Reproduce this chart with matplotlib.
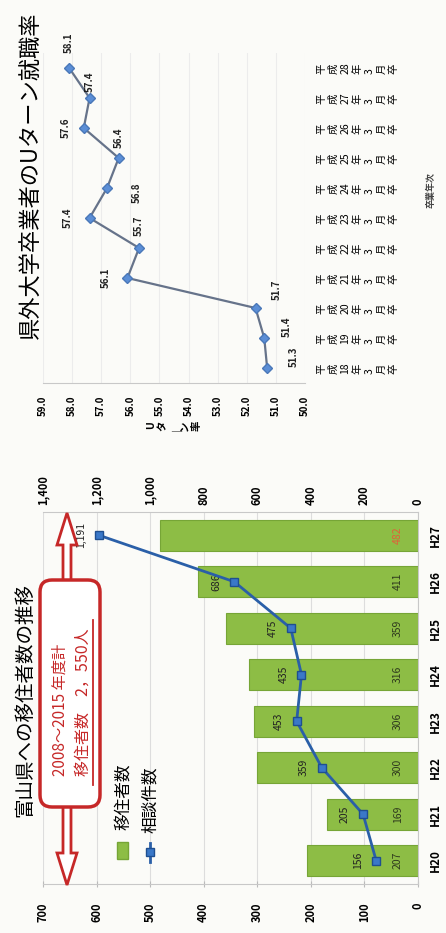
import numpy as np
import matplotlib.pyplot as plt
from matplotlib.patches import FancyArrow, FancyBboxPatch, Rectangle

plt.rcParams['font.family'] = ['Noto Sans CJK JP', 'DejaVu Sans']

# 富山県への移住者数の推移
years = ['H20', 'H21', 'H22', 'H23', 'H24', 'H25', 'H26', 'H27']
migrants = [207, 169, 300, 306, 316, 359, 411, 482]
consults = [156, 205, 359, 453, 435, 475, 686, 1191]

# 県外大学卒業者のUターン就職率
grad_years = ['18', '19', '20', '21', '22', '23', '24', '25', '26', '27', '28']
uturn_rate = [51.3, 51.4, 51.7, 56.1, 55.7, 57.4, 56.8, 56.4, 57.6, 57.4, 58.1]

# ラベルのずらし量（画像ピクセル）
rate_label_offsets = [(27, -11), (23, -11), (21, -18), (-22, 0), (0, -22), (-22, 0),
                      (30, 5), (0, -20), (-18, 0), (0, -16), (0, -25)]

W, H = 446, 933
PX = 72 / 100  # px -> pt


def rect(l, t, r, b):
    return [l / W, 1 - b / H, (r - l) / W, (b - t) / H]


fig = plt.figure(figsize=(W / 100, H / 100), dpi=100, facecolor='#fbfbf8')

# ---- 移住者数（横向きの棒） ----
ax = fig.add_axes(rect(43, 512, 418, 884))
ax.patch.set_alpha(0)
y = np.arange(len(years))
ax.barh(y, migrants, height=0.66, color='#8dbd45', edgecolor='#76a536', lw=0.8, zorder=2)
ax.set_xlim(700, 0)
ax.set_ylim(-0.5, len(years) - 0.5)
ax.set_xticks(np.arange(0, 701, 100))
ax.set_xticklabels([str(v) for v in range(0, 701, 100)], rotation=90, fontsize=8, fontweight='bold')
ax.tick_params(axis='x', direction='inout', length=5, color='#bbbbbb', pad=11)
ax.yaxis.tick_right()
ax.set_yticks(y)
ax.set_yticklabels(years, rotation=90, va='center', fontsize=8.5, fontweight='bold')
ax.tick_params(axis='y', length=0, pad=8)
ax.grid(axis='x', color='#dddddd', lw=0.8, zorder=0)
ax.set_axisbelow(True)
ax.spines['left'].set_visible(False)
for s in ['top', 'bottom', 'right']:
    ax.spines[s].set_color('#c8c8c8')

for i, v in enumerate(migrants):
    col = '#e0603a' if i == len(migrants) - 1 else '#2f3a1e'
    ax.text(38, i, str(v), rotation=90, ha='center', va='center', fontsize=7.5,
            color=col, zorder=4)

# 相談件数（右軸）
ax2 = ax.twiny()
ax2.set_xlim(1400, 0)
ax2.set_xticks(np.arange(0, 1401, 200))
ax2.set_xticklabels([f'{v:,}' for v in range(0, 1401, 200)], rotation=90, fontsize=8,
                    fontweight='bold')
ax2.tick_params(axis='x', length=0, pad=5)
for s in ax2.spines.values():
    s.set_visible(False)
ax2.plot(consults, y, color='#2a5fa8', lw=2, marker='s', ms=6, mfc='#3a78c8',
         mec='#1f4f90', zorder=5)
for i, v in enumerate(consults):
    ax2.annotate(f'{v:,}', (v, i), xytext=(-13, 0), textcoords='offset points',
                 rotation=90, ha='center', va='center', fontsize=7.5, color='#222222')

# ---- Uターン就職率 ----
ax3 = fig.add_axes(rect(43, 53, 305, 383))
ax3.patch.set_alpha(0)
yy = np.arange(len(grad_years))
ax3.set_xlim(59, 50)
ax3.set_ylim(-0.5, len(grad_years) - 0.5)
ax3.set_xticks(np.arange(50, 59.1, 1))
ax3.set_xticklabels([f'{v:.1f}' for v in np.arange(50, 59.1, 1)], rotation=90, fontsize=7,
                    fontweight='bold')
ax3.tick_params(axis='x', length=0, pad=9)
ax3.yaxis.tick_right()
ax3.set_yticks(yy)
ax3.set_yticklabels(['平\n成\n' + g + '\n年\n3\n月\n卒' for g in grad_years], rotation=90,
                    va='center', fontsize=7.5, linespacing=1.25)
ax3.tick_params(axis='y', length=0, pad=8)
ax3.set_xlabel('U\nタ\n｜\nン\n率', rotation=90, fontsize=7.5, fontweight='bold',
               linespacing=1.15, labelpad=3)
ax3.grid(axis='x', color='#ececec', lw=0.8)
for s in ['left', 'top', 'right']:
    ax3.spines[s].set_visible(False)
ax3.spines['bottom'].set_color('#c8c8c8')
ax3.plot(uturn_rate, yy, color='#66738a', lw=1.6, marker='D', ms=5, mfc='#5b8ed6',
         mec='#4a78b8', zorder=3)
for i, v in enumerate(uturn_rate):
    dx, dy = rate_label_offsets[i]
    ax3.annotate(f'{v:.1f}', (v, i), xytext=(dx * PX, -dy * PX), textcoords='offset points',
                 rotation=90, ha='center', va='center', fontsize=7, fontweight='bold',
                 color='#222222')

# ---- 見出し・凡例・吹き出し ----
ov = fig.add_axes([0, 0, 1, 1], zorder=10)
ov.set_xlim(0, W)
ov.set_ylim(H, 0)
ov.axis('off')
ov.patch.set_alpha(0)

ov.text(25, 700, '富山県への移住者数の推移', rotation=90, ha='center', va='center', fontsize=14)
ov.text(31, 175, '県外大学卒業者のUターン就職率', rotation=90, ha='center', va='center',
        fontsize=16)
ov.text(431, 190, '卒業年次', rotation=90, ha='center', va='center', fontsize=6.5,
        fontweight='bold', color='#444444')

red = '#c62828'
for tip in (513, 885):
    ov.add_patch(FancyArrow(67, 700, 0, tip - 700, width=8, head_width=20, head_length=32,
                            length_includes_head=True, fc='white', ec=red, lw=2))
ov.add_patch(FancyBboxPatch((40, 580), 60, 227, boxstyle='round,pad=0,rounding_size=12',
                            fc='white', ec=red, lw=2.5))
ov.text(60, 710, '2008～2015 年度計', rotation=90, ha='center', va='center', fontsize=11,
        color=red)
ov.text(83, 702, '移住者数　2，550人', rotation=90, ha='center', va='center', fontsize=11.5,
        color=red)
ov.plot([93, 93], [620, 785], color=red, lw=1.3)

# 凡例
ov.add_patch(Rectangle((117, 842), 11, 17, fc='#8dbd45', ec='#76a536'))
ov.text(124, 797, '移住者数', rotation=90, ha='center', va='center', fontsize=12)
ov.plot([150, 150], [843, 862], color='#2a5fa8', lw=2)
ov.plot([150], [852], marker='s', ms=6, color='#3a78c8', mec='#1f4f90')
ov.text(151, 800, '相談件数', rotation=90, ha='center', va='center', fontsize=12)

fig.savefig('out.png', dpi=100, facecolor=fig.get_facecolor())
